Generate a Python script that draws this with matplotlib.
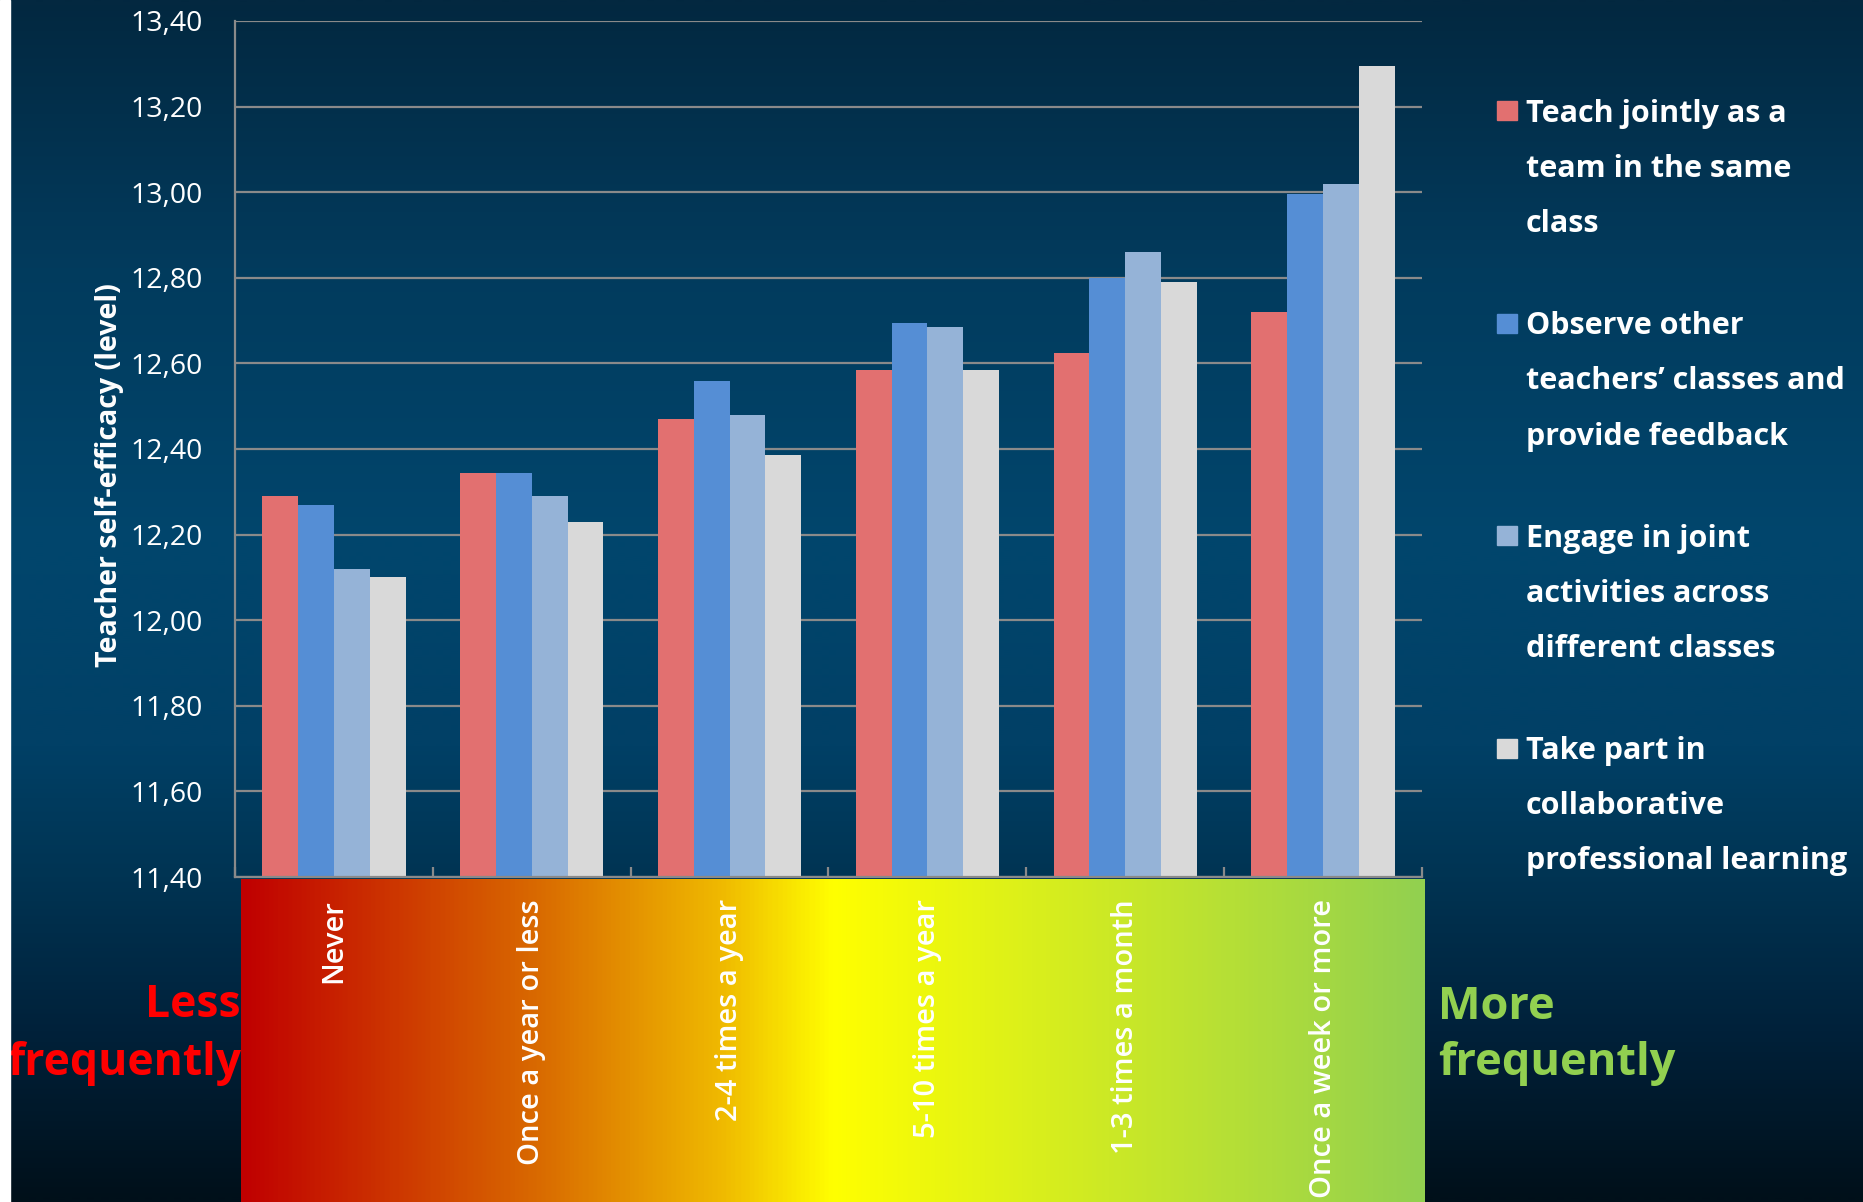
import numpy as np
import matplotlib
matplotlib.use("Agg")
import matplotlib.pyplot as plt
from matplotlib.colors import LinearSegmentedColormap
from matplotlib.patches import Rectangle
from matplotlib.ticker import FuncFormatter, MultipleLocator, FixedLocator
from matplotlib.transforms import ScaledTranslation

# ---- data -------------------------------------------------------------
categories = ["Never", "Once a year or less", "2-4 times a year",
              "5-10 times a year", "1-3 times a month", "Once a week or more"]

teach_jointly = [12.29, 12.345, 12.47, 12.585, 12.625, 12.72]
observe_feedback = [12.27, 12.345, 12.56, 12.695, 12.80, 12.995]
joint_activities = [12.12, 12.29, 12.48, 12.685, 12.86, 13.02]
collaborative_learning = [12.10, 12.23, 12.385, 12.585, 12.79, 13.295]

series_labels = [
    ["Teach jointly as a", "team in the same", "class"],
    ["Observe other", "teachers\u2019 classes and", "provide feedback"],
    ["Engage in joint", "activities across", "different classes"],
    ["Take part in", "collaborative", "professional learning"],
]
series_values = [teach_jointly, observe_feedback, joint_activities, collaborative_learning]
series_colors = ["#E27070", "#558ED5", "#95B3D7", "#D9D9D9"]

y_min, y_max, y_step = 11.40, 13.40, 0.20
y_axis_title = "Teacher self-efficacy (level)"

# ---- figure ----------------------------------------------------------
W, H = 1863, 1202
plt.rcParams["font.family"] = ["Open Sans", "DejaVu Sans"]
fig = plt.figure(figsize=(W / 100, H / 100), dpi=100)


def px_box(x0, y0, x1, y1):
    return [x0 / W, 1 - y1 / H, (x1 - x0) / W, (y1 - y0) / H]


def fx(x):
    return x / W


def fy(y):
    return 1 - y / H


# slide background: vertical navy gradient
bg = fig.add_axes([0, 0, 1, 1], zorder=-10)
bg_cmap = LinearSegmentedColormap.from_list(
    "slide_bg",
    [(0.00, "#032840"), (0.22, "#023b5d"), (0.45, "#01466d"),
     (0.62, "#014066"), (0.73, "#003453"), (0.86, "#00213a"),
     (1.00, "#00101a")])
bg.imshow(np.linspace(0, 1, 600)[:, None], aspect="auto", cmap=bg_cmap,
          extent=[0, 1, 0, 1], interpolation="bilinear")
bg.set_axis_off()

# frequency band under the category axis: red -> orange -> yellow -> green
band = fig.add_axes(px_box(241, 879, 1424, H), zorder=-5)
band_cmap = LinearSegmentedColormap.from_list(
    "frequency", [(0.0, "#C00000"), (0.25, "#D96A00"), (0.41, "#F0BC00"),
                  (0.50, "#FFFF00"), (1.0, "#92D050")])
band.imshow(np.linspace(0, 1, 800)[None, :], aspect="auto", cmap=band_cmap,
            extent=[0, 1, 0, 1], interpolation="bilinear")
band.set_axis_off()

# ---- bar chart ---------------------------------------------------------
ax = fig.add_axes(px_box(235, 21, 1422, 877), zorder=1)
ax.set_facecolor("none")

x = np.arange(len(categories))
bar_w = 0.181
for i, (vals, color) in enumerate(zip(series_values, series_colors)):
    ax.bar(x + (i - 1.5) * bar_w, np.array(vals) - y_min, bottom=y_min,
           width=bar_w, color=color, linewidth=0, zorder=2)

ax.set_xlim(-0.5, len(categories) - 0.5)
ax.set_ylim(y_min, y_max)

grid_c = "#8a8a8a"
ax.yaxis.set_major_locator(MultipleLocator(y_step))
ax.yaxis.set_major_formatter(FuncFormatter(lambda v, _: f"{v:.2f}".replace(".", ",")))
ax.yaxis.grid(True, color=grid_c, linewidth=1.6, zorder=0)
ax.set_axisbelow(True)
ax.tick_params(axis="y", length=0, pad=23, labelsize=20.5, labelcolor="white")

ax.set_xticks(x)
ax.set_xticklabels(categories, rotation=90, color="white",
                   fontsize=21, fontweight="semibold")
nudge = ScaledTranslation(3 / 100, 0, fig.dpi_scale_trans)
for lbl in ax.get_xticklabels():
    lbl.set_transform(lbl.get_transform() + nudge)
ax.xaxis.set_minor_locator(FixedLocator(np.arange(len(categories) + 1) - 0.5))
ax.tick_params(axis="x", which="major", length=0, pad=16)
ax.tick_params(axis="x", which="minor", direction="in", length=7,
               width=1.6, color=grid_c)

for side in ("top", "right"):
    ax.spines[side].set_visible(False)
for side in ("left", "bottom"):
    ax.spines[side].set_color(grid_c)
    ax.spines[side].set_linewidth(1.6)

fig.text(fx(110), fy(475), y_axis_title, rotation=90, ha="center",
         va="center", color="white", fontsize=20.5, fontweight="bold")

# ---- legend (square key + wrapped label lines) -------------------------
entry_gap = 212.5
line_gap = 55
for i, (lines, color) in enumerate(zip(series_labels, series_colors)):
    base = 122 + i * entry_gap
    fig.patches.append(Rectangle((fx(1497), fy(base - 2)), 20 / W, 19 / H,
                                 transform=fig.transFigure, color=color,
                                 zorder=3))
    for k, line in enumerate(lines):
        fig.text(fx(1526), fy(base + k * line_gap), line, ha="left",
                 va="baseline", color="white", fontsize=22,
                 fontweight="bold")

# ---- frequency direction labels ----------------------------------------
for txt, y in (("Less", 1017), ("frequently", 1075)):
    fig.text(fx(241), fy(y), txt, ha="right", va="baseline",
             color="#FF0000", fontsize=32, fontweight="bold")
for txt, y in (("More", 1019), ("frequently", 1075)):
    fig.text(fx(1438), fy(y), txt, ha="left", va="baseline",
             color="#92D050", fontsize=32.5, fontweight="bold")

# white slide margin on the far left
fig.patches.append(Rectangle((0, 0), 10 / W, 1, transform=fig.transFigure,
                             color="white", zorder=10))

fig.savefig("out.png", dpi=100)
